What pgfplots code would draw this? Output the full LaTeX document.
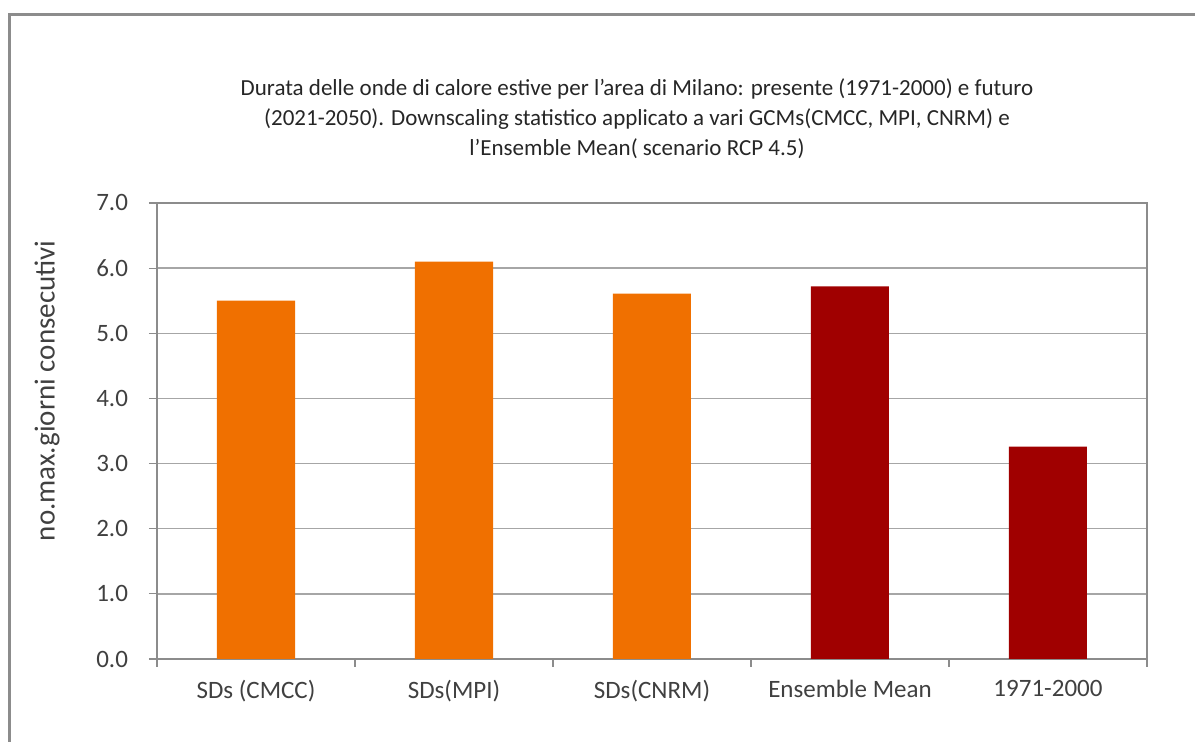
\documentclass[border=0pt]{standalone}
\usepackage{fontspec}
\setmainfont{Carlito}
\usepackage{pgfplots}
\pgfplotsset{compat=1.18}
\definecolor{barorange}{HTML}{F07000}
\definecolor{bardark}{HTML}{A00000}
\definecolor{framegray}{HTML}{8C8C8C}
\definecolor{gridgray}{HTML}{A6A6A6}
\definecolor{textgray}{HTML}{404040}

\begin{document}
\begin{tikzpicture}
% page is 1195 x 742 "pixels" at 0.5pt each
\begin{scope}[x=0.5pt,y=0.5pt]
\useasboundingbox (0,0) rectangle (1195,742);
\draw[framegray, line width=1.5pt] (9,0) -- (9,727) -- (1195,727);
\node[align=center, font=\fontsize{11.5}{15}\selectfont, text=black!85] at (637,623)
  {Durata delle onde di calore estive per l'area di Milano: presente (1971-2000) e futuro\\
   (2021-2050). Downscaling statistico applicato a vari GCMs(CMCC, MPI, CNRM) e\\
   l'Ensemble Mean( scenario RCP 4.5)};
\end{scope}

\begin{axis}[
  at={(78.5pt,41.5pt)}, anchor=south west,
  width=495pt, height=228pt, scale only axis,
  xmin=0.5, xmax=5.5, ymin=0, ymax=7,
  ybar, bar width=39pt,
  xtick={0.5,1.5,2.5,3.5,4.5,5.5}, xticklabels={},
  extra x ticks={1,2,3,4,5},
  extra x tick labels={SDs (CMCC),SDs(MPI),SDs(CNRM),Ensemble Mean,1971-2000},
  extra x tick style={major tick length=0pt, grid=none,
    xticklabel style={yshift=-7pt}},
  ytick={0,1,2,3,4,5,6,7},
  xtick pos=bottom, ytick pos=left,
  ymajorgrids, grid style={gridgray, line width=0.7pt},
  tick align=outside, major tick length=4pt,
  tick style={framegray, line width=0.6pt},
  axis line style={framegray, line width=0.7pt},
  /pgf/number format/assume math mode=true,
  yticklabel style={/pgf/number format/fixed, /pgf/number format/fixed zerofill,
    /pgf/number format/precision=1, xshift=-7pt},
  tick label style={font=\fontsize{12.5}{14}\selectfont, text=textgray},
  ylabel={no.max.giorni consecutivi},
  ylabel style={at={(axis description cs:-0.111,0.588)}, anchor=center,
    font=\fontsize{14.5}{16}\selectfont, text=textgray},
]
\addplot[fill=barorange, draw=none, bar shift=0pt] coordinates {
  (1, 5.50)
  (2, 6.10)
  (3, 5.61)
};
\addplot[fill=bardark, draw=none, bar shift=0pt] coordinates {
  (4, 5.72)
  (5, 3.26)
};
\end{axis}
\end{tikzpicture}
\end{document}
